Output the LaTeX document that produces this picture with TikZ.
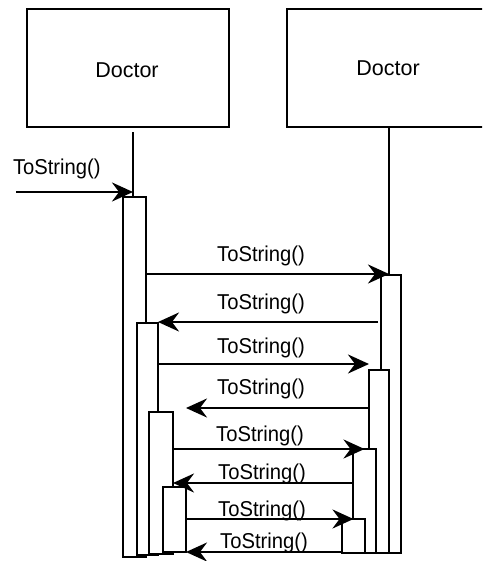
\documentclass[tikz,border=0pt]{standalone}
\usepackage{fontspec}
\setmainfont{Liberation Sans}
\newfontfamily\msgfont[FakeStretch=0.94]{Liberation Sans}
\usetikzlibrary{arrows.meta}
\begin{document}
\begin{tikzpicture}[x=1pt,y=-1pt,
  lifeline/.style={line width=2.4pt},
  objbox/.style={draw, line width=2.6pt, fill=white, inner sep=0pt, outer sep=0pt},
  actbar/.style={draw, line width=2.4pt, fill=white, inner sep=0pt, outer sep=0pt},
  msg/.style={line width=2.4pt, -{Stealth[length=21pt,width=19pt,inset=7pt]}},
  txt/.style={font=\fontsize{21.5}{25}\selectfont, inner sep=0pt, outer sep=0pt},
  msglabel/.style={font=\msgfont\fontsize{21.5}{25}\selectfont, inner sep=0pt, outer sep=0pt, anchor=base}]
\clip (0,0) rectangle (482,561);
\fill[white] (0,0) rectangle (482,561);

% object boxes
\node[objbox, minimum width=202pt, minimum height=118pt] (D1) at (128,68) {};
\node[txt] (n1) at (127,70.5) {Doctor};
\node[objbox, minimum width=202pt, minimum height=118pt] (D2) at (388,68) {};
\node[txt] (n2) at (388,68) {Doctor};

% activation bars, left column
\node[actbar, minimum width=23pt, minimum height=360pt] (L1) at (134.5,377) {};
\node[actbar, minimum width=21pt, minimum height=232pt] (L2) at (147.5,439) {};
\node[actbar, minimum width=24pt, minimum height=142pt] (L3) at (161,483) {};
\node[actbar, minimum width=23pt, minimum height=65pt] (L4) at (174.5,519.5) {};

% activation bars, right column
\node[actbar, minimum width=20pt, minimum height=278pt] (R1) at (391,414) {};
\node[actbar, minimum width=20pt, minimum height=183pt] (R2) at (379,461.5) {};
\node[actbar, minimum width=23pt, minimum height=104pt] (R3) at (364.5,501) {};
\node[actbar, minimum width=23pt, minimum height=34pt] (R4) at (353.5,536) {};

% lifelines
\coordinate (ltop) at (0,132);
\draw[lifeline] ([xshift=-1.5pt]L1.north) -- ([xshift=-1.5pt]L1.north |- ltop);
\draw[lifeline] ([xshift=-2pt]R1.north) -- ([xshift=-2pt]R1.north |- D2.south);

% message levels
\coordinate (m0) at (16,192);
\coordinate (m1) at (0,274);
\coordinate (m2) at (0,322);
\coordinate (m3) at (0,364);
\coordinate (m4) at (0,408);
\coordinate (m5) at (0,449);
\coordinate (m6) at (0,483);
\coordinate (m7) at (0,519);
\coordinate (m8) at (0,552);

% messages
\draw[msg] (m0) -- ([xshift=-1.5pt]L1.north |- m0);
\draw[msg] (L1.east |- m1) -- ([xshift=-2pt]R1.north |- m1);
\draw[msg] ([xshift=-3pt]R1.west |- m2) -- (L2.east |- m2);
\draw[msg] (L2.east |- m3) -- (R2.west |- m3);
\draw[msg] (R2.west |- m4) -- (L4.east |- m4);
\draw[msg] (L3.east |- m5) -- (R3.north |- m5);
\draw[msg] (R3.west |- m6) -- (L3.east |- m6);
\draw[msg] (L4.east |- m7) -- (R4.north |- m7);
\draw[msg] (R4.west |- m8) -- (L4.east |- m8);

% message labels
\node[msglabel, anchor=base west] (t0) at (13,175) {ToString()};
\node[msglabel] (t1) at (261,261) {ToString()};
\node[msglabel] (t2) at (261,309) {ToString()};
\node[msglabel] (t3) at (261,353) {ToString()};
\node[msglabel] (t4) at (261,394) {ToString()};
\node[msglabel] (t5) at (260,441) {ToString()};
\node[msglabel] (t6) at (262,479) {ToString()};
\node[msglabel] (t7) at (262,516) {ToString()};
\node[msglabel] (t8) at (264,548) {ToString()};
\end{tikzpicture}
\end{document}
